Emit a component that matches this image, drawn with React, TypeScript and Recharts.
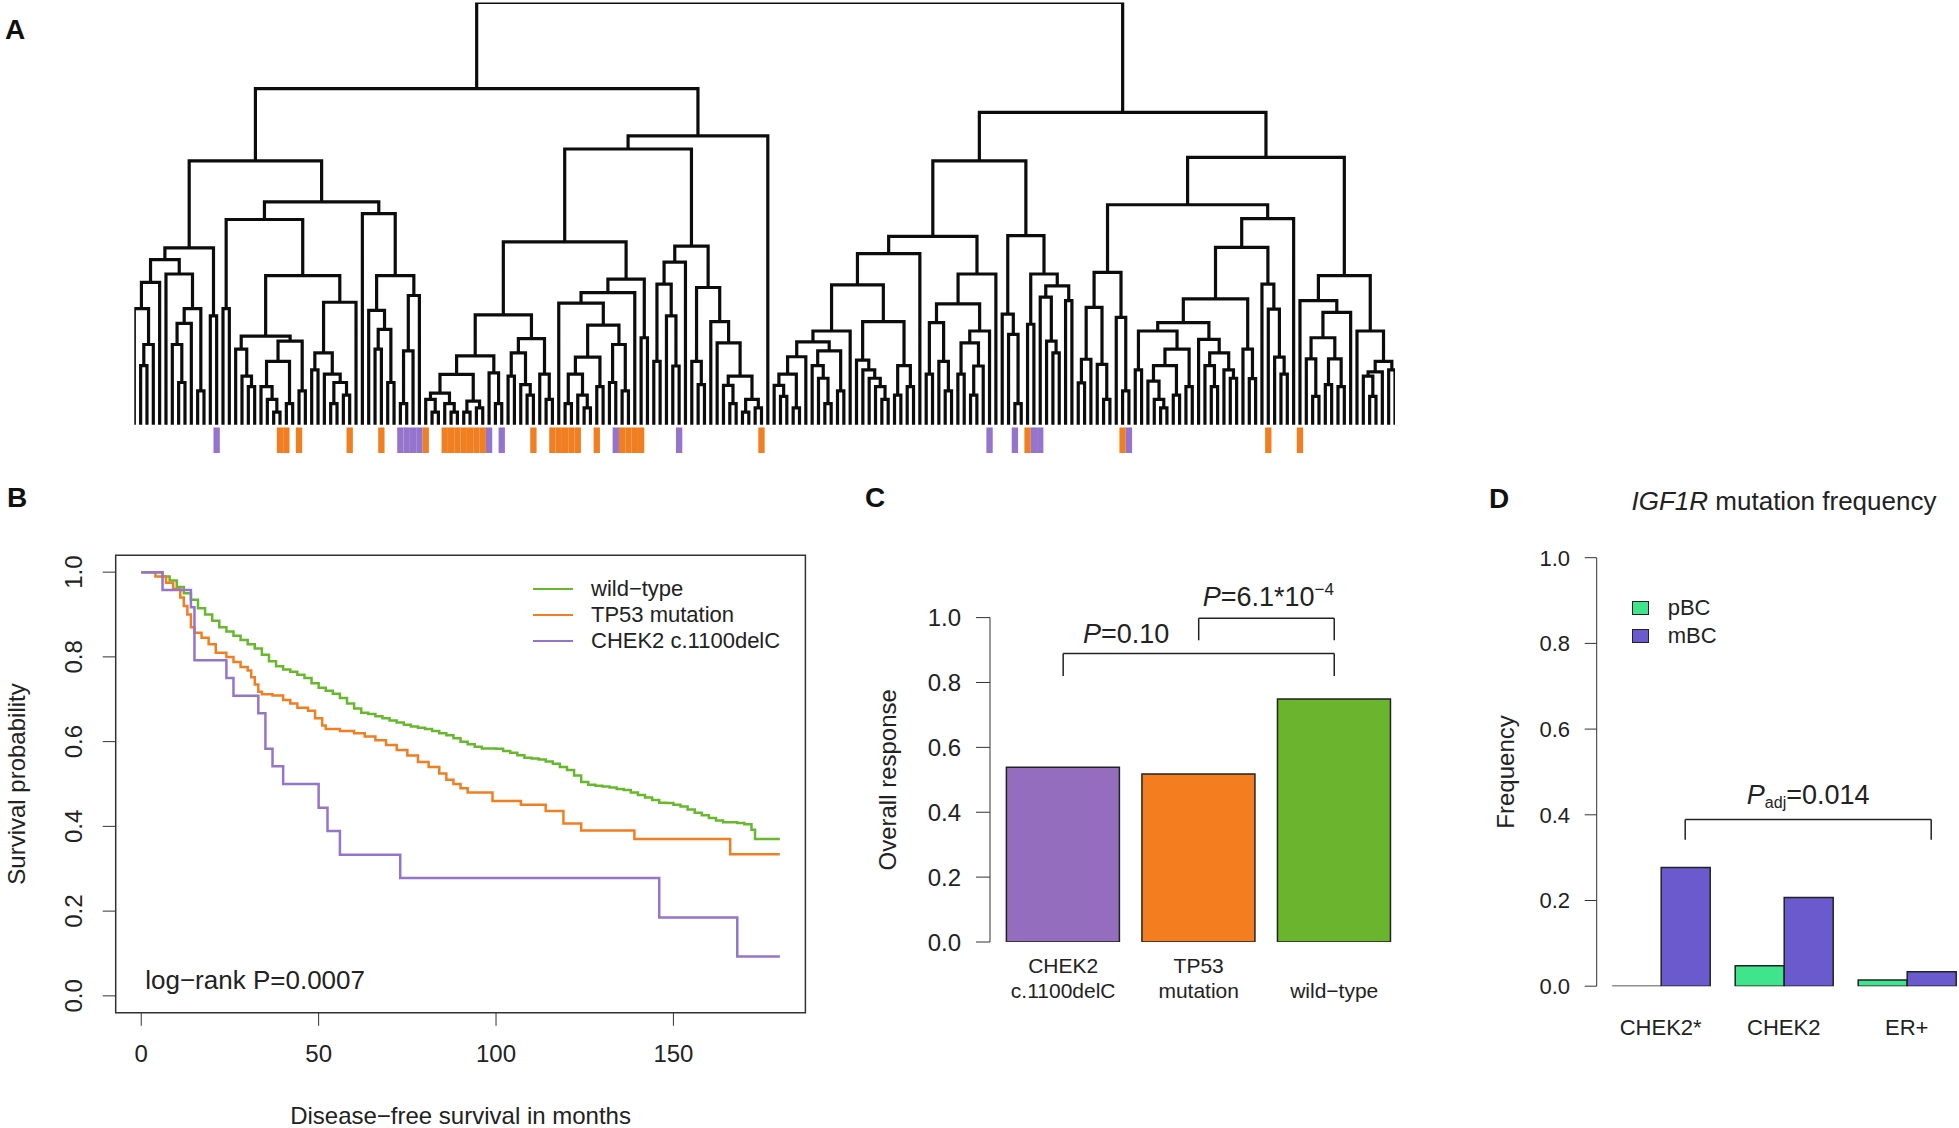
import React from 'react';
import {
  Bar,
  Cell,
  ComposedChart,
  Label,
  Legend,
  Line,
  LineChart,
  ReferenceArea,
  ReferenceDot,
  ReferenceLine,
  XAxis,
  YAxis,
} from 'recharts';

const FONT = '"Liberation Sans", Arial, Helvetica, sans-serif';
const INK = '#222';
const AXIS = '#333';
const ORANGE = '#F27E22';
const PURPLE = '#9474CC';
const GREEN = '#68B82E';

// ---------- Panel A: clustering tree ----------
// a node is [merge height, left, right], 0 is a leaf; heights 0 (leaves) .. 100 (root)
const clusterL = [41.9,
  [39.1,
    [33.7, [27.5, 0, [19, [14, 0, 0], 0]], 0],
    [35.7, 0, [27.5, [24, [19, 0, [10, 0, 0]], 0], [8, 0, 0]]]],
  [25.8, 0, 0]];

const clusterR1 = [48.6,
  [27.5, 0, 0],
  [35.3,
    [21, [17.9, 0, [11.5, 0, [9, 0, 0]]], [19.8, [15, [9, 0, [6, 0, [3, 0, 0]]], [5, 0, 0]], [8, 0, 0]]],
    [29, [17, [13, 0, 0], [12, 0, [10, [5, 0, 0], [7, 0, 0]]]], 0]]];

const clusterR2 = [50, 0, [35.3,
  [27.1, 0, [22.6, [17.9, 0, 0], [10, 0, 0]]],
  [30.6, [17.5, [5, 0, 0], 0], 0]]];

const clusterS1 = [43.3,
  [26,
    [16.3,
      [11.9, [7.5, [6, 0, [3, 0, 0]], [5, 0, [3, 0, 0]]], [5.6, [3, 0, 0], [4, 0, 0]]],
      [12.3, 0, [5, 0, 0]]],
    [20.4, [17, [11.5, 0, 0], [9.5, 0, [7, 0, 0]]], [12, 0, [6, 0, 0]]]],
  [34.5,
    [31.3, [28.8, 0,
      [23.6, [16, [12, [5, 0, 0], [7, 0, [4, 0, 0]]], [9, 0, 0]], [19, [10, 0, 0], [8, 0, 0]]]], 0],
    [20.6, 0, 0]]];

const clusterS2 = [42.3,
  [38.5, [33.3, [15, 0, 0], [25.8, 0, [13.9, 0, 0]]], 0],
  [32.5, [15, 0, [9.5, 0, 0]],
    [24.4, 0, [19.4, 0, [11.5, [9.3, 0, [5, 0, 0]], [6, [3, 0, 0], [4, 0, 0]]]]]]];

const clusterRLa = [44.6,
  [40.5,
    [33.1,
      [22.2,
        [19.6,
          [16.1, [12, [9.3, 0, [6.7, 0, 0]], [4, 0, 0]], 0],
          [17.5, [14, 0, [11, 0, [5, 0, 0]]], [8, 0, 0]]],
        0],
      [24.4,
        [15.3, 0, [13, 0, [11, 0, [9, 0, [6, 0, 0]]]]],
        [14, [7, 0, 0], [9, 0, 0]]]],
    0],
  [35.7,
    [28.6,
      [24.2, [12, 0, 0], [15, 0, [8, 0, 0]]],
      [22.2, [19.4, [12, 0, 0], [13.9, [7, 0, 0], 0]], 0]],
    0]];

const clusterRLb = [44.8,
  [26.2, 0, [21.4, 0, [5, 0, 0]]],
  [35.7, [23.8, 0, 0], [32.9, [30.2, 0, [19.8, 0, [17, 0, 0]]], [29.4, 0, 0]]]];

const clusterRRa = [52.1,
  [36.1,
    [27.8, [15.5, [9.9, 0, 0], 0], [14.3, 0, [6, 0, 0]]],
    [25.4, 0, [8, 0, 0]]],
  [48.8,
    [42,
      [29.8,
        [24.2,
          [22.2, [13, 0, 0], [17.9, [14, [10.3, 0, [6, 0, [4, 0, 0]]], [7, 0, 0]], [9, 0, 0]]],
          [20.2, 0, [17, [14, 0, [9, 0, 0]], [13, 0, [11, 0, 0]]]]],
        [17.9, 0, [10.9, 0, 0]]],
      [33.3, 0, [27.4, 0, [16, 0, [12, 0, 0]]]]],
    0]];

const clusterRRb = [35.3,
  [29.4, 0, [26.6, [20.6, [15.6, 0, [6.7, 0, 0]], [15.6, [9.5, 0, 0], [9, 0, 0]]], 0]],
  [22.2, 0, [15, [12.5, [11.5, 0, [6.7, 0, 0]], 0], [13, 0, 0]]]];

const leftBranch = [79.6, [62.5, clusterL, [52.8, clusterR1, clusterR2]], [68.4, [65.3, clusterS1, clusterS2], 0]];
const rightBranch = [74, [62.5, clusterRLa, clusterRLb], [63.3, clusterRRa, clusterRRb]];
const dendrogram = [100, leftBranch, rightBranch];

// leaf positions (left to right) marked under the tree
const tp53Leaves = [23, 24, 26, 34, 39, 46, 49, 50, 51, 52, 53, 54, 55, 63, 66, 67, 68, 69, 70, 73, 77, 78, 79, 80, 99, 141, 156, 179, 184];
const chek2Leaves = [13, 42, 43, 44, 45, 56, 58, 76, 86, 135, 139, 142, 143, 157];

// ---------- Panel B: Kaplan-Meier steps [months, survival] ----------
const wildTypeSteps = [
  [0, 1], [5, 1], [6, 0.99], [8, 0.98], [10, 0.965], [12, 0.95], [14, 0.935], [16, 0.915], [18, 0.9],
  [20, 0.885], [22, 0.87], [24, 0.86], [26, 0.85], [28, 0.84], [30, 0.83], [32, 0.82], [34, 0.805],
  [36, 0.79], [38, 0.778], [40, 0.77], [42, 0.765], [44, 0.758], [46, 0.75], [48, 0.738], [50, 0.727],
  [52, 0.72], [54, 0.713], [56, 0.703], [58, 0.69], [60, 0.678], [62, 0.668], [64, 0.665], [66, 0.66],
  [68, 0.655], [70, 0.65], [72, 0.645], [74, 0.64], [76, 0.636], [78, 0.633], [80, 0.63], [82, 0.625],
  [84, 0.62], [86, 0.615], [88, 0.608], [90, 0.6], [92, 0.594], [94, 0.588], [96, 0.584], [100, 0.583],
  [102, 0.578], [104, 0.574], [106, 0.568], [108, 0.562], [110, 0.56], [112, 0.558], [114, 0.553],
  [116, 0.548], [118, 0.54], [120, 0.533], [122, 0.52], [124, 0.505], [126, 0.498], [128, 0.496],
  [130, 0.494], [132, 0.492], [134, 0.488], [136, 0.486], [138, 0.48], [140, 0.474], [142, 0.468],
  [144, 0.462], [146, 0.456], [148, 0.455], [150, 0.451], [152, 0.447], [154, 0.44], [156, 0.432],
  [158, 0.426], [160, 0.42], [162, 0.414], [164, 0.41], [168, 0.408], [170, 0.405], [172, 0.392],
  [173, 0.37], [180, 0.37],
];
const tp53Steps = [
  [0, 1], [4, 0.99], [7, 0.975], [9, 0.96], [11, 0.94], [12, 0.92], [13, 0.9], [14, 0.87], [15, 0.857],
  [17, 0.845], [19, 0.83], [21, 0.81], [24, 0.8], [26, 0.788], [28, 0.776], [30, 0.768], [31, 0.752],
  [32, 0.735], [33, 0.718], [34, 0.712], [37, 0.709], [40, 0.698], [42, 0.69], [44, 0.68], [47, 0.673],
  [49, 0.655], [51, 0.638], [52, 0.63], [56, 0.625], [60, 0.62], [63, 0.612], [66, 0.603], [69, 0.592],
  [72, 0.58], [75, 0.567], [78, 0.552], [81, 0.54], [84, 0.525], [86, 0.51], [88, 0.5], [90, 0.49],
  [92, 0.48], [99, 0.46], [107, 0.451], [114, 0.436], [119, 0.407], [124, 0.39], [139, 0.37],
  [166, 0.334], [180, 0.334],
];
const chek2Steps = [
  [0, 1], [6, 0.958], [14, 0.917], [15, 0.792], [24, 0.75], [26, 0.708], [33, 0.667], [35, 0.583],
  [37, 0.542], [40, 0.5], [50, 0.444], [52.5, 0.389], [56, 0.333], [73, 0.278], [146, 0.185],
  [168, 0.093], [180, 0.093],
];
const survivalSeries = [
  { name: 'wild−type', color: GREEN, steps: wildTypeSteps },
  { name: 'TP53 mutation', color: ORANGE, steps: tp53Steps },
  { name: 'CHEK2 c.1100delC', color: PURPLE, steps: chek2Steps },
];
const monthTicks = [0, 50, 100, 150];
const probTicks = [0, 0.2, 0.4, 0.6, 0.8, 1];

// ---------- Panel C: overall response ----------
const responseGroups = ['CHEK2\nc.1100delC', 'TP53\nmutation', '\nwild−type'];
const responseValues = [0.539, 0.518, 0.749];
const responseColors = ['#946DBE', '#F47D20', '#6BB42D'];

// ---------- Panel D: IGF1R mutation frequency ----------
const freqGroups = ['CHEK2*', 'CHEK2', 'ER+'];
const pbcFreq = [0, 0.048, 0.0145];
const mbcFreq = [0.277, 0.207, 0.034];
const PBC_COLOR = '#3FE48C';
const MBC_COLOR = '#6A5ACD';
const FREQ_BAR = 49;

function layoutTree(root: any) {
  const points: { x: number; h: number | null }[] = [];
  let leaf = 0;
  const walk = (node: any): { x: number; h: number } => {
    if (!Array.isArray(node)) return { x: leaf++, h: 0 };
    const [h, a, b] = node;
    const l = walk(a);
    const r = walk(b);
    points.push({ x: l.x, h: l.h }, { x: l.x, h }, { x: r.x, h }, { x: r.x, h: r.h }, { x: r.x, h: null });
    return { x: (l.x + r.x) / 2, h };
  };
  walk(root);
  return { points, leafCount: leaf };
}

const { points: treePoints, leafCount } = layoutTree(dendrogram);

const textProps = { fontFamily: FONT, fill: INK };

const ProbTick = ({ x, y, payload }: any) => (
  <text x={x} y={y} transform={`rotate(-90, ${x}, ${y})`} textAnchor="middle" fontSize={24} {...textProps}>
    {Number(payload.value).toFixed(1)}
  </text>
);

const MonthTick = ({ x, y, payload }: any) => (
  <text x={x} y={y + 17.2} textAnchor="middle" fontSize={24} {...textProps}>{payload.value}</text>
);

const valueTick = (size: number) => ({ x, y, payload }: any) => (
  <text x={x} y={y} dy="0.355em" textAnchor="end" fontSize={size} {...textProps}>
    {Number(payload.value).toFixed(1)}
  </text>
);

const ResponseTick = ({ x, y, payload }: any) => {
  const lines = String(payload.value).split('\n');
  return (
    <text textAnchor="middle" fontSize={21} {...textProps}>
      {lines.map((l, i) => (
        <tspan key={i} x={x} y={y + 31 + i * 24.5}>{l}</tspan>
      ))}
    </text>
  );
};

const FreqTick = ({ x, y, payload }: any) => (
  <text x={x} y={y + 49} textAnchor="middle" fontSize={22} {...textProps}>{payload.value}</text>
);

const OutlinedBar = ({ x, y, width, height, fill }: any) => (
  <path d={`M${x},${y}h${width}v${height}h${-width}Z`} fill={fill} stroke={INK} strokeWidth={1.5} />
);

// bracket drawn at the mBC bar of each group (right half of the group)
const MbcBracketLine = (p: any) => (
  <line x1={p.x1 + FREQ_BAR / 2} y1={p.y1} x2={p.x2 + FREQ_BAR / 2} y2={p.y2} stroke={INK} strokeWidth={1.5} />
);

const SurvivalLegend = () => (
  <div style={{ fontFamily: FONT, fontSize: 22, color: INK }}>
    {survivalSeries.map((s) => (
      <div key={s.name} style={{ display: 'flex', alignItems: 'center', height: 25.75, whiteSpace: 'nowrap' }}>
        <span style={{ display: 'inline-block', width: 40, borderTop: `2.5px solid ${s.color}`, marginRight: 18 }} />
        {s.name}
      </div>
    ))}
  </div>
);

const FreqLegend = () => (
  <div style={{ fontFamily: FONT, fontSize: 22, color: INK }}>
    {[{ name: 'pBC', color: PBC_COLOR }, { name: 'mBC', color: MBC_COLOR }].map((s) => (
      <div key={s.name} style={{ display: 'flex', alignItems: 'center', height: 28, whiteSpace: 'nowrap' }}>
        <span style={{ display: 'inline-block', width: 15, height: 12, background: s.color, border: `1.5px solid ${INK}`, marginRight: 19 }} />
        {s.name}
      </div>
    ))}
  </div>
);

function Dendrogram() {
  return (
    <ComposedChart width={1959} height={460} data={treePoints} margin={{ top: 2.5, right: 564, bottom: 7, left: 134.3 }}>
      <XAxis type="number" dataKey="x" domain={[0, leafCount - 1]} hide allowDataOverflow />
      <YAxis type="number" domain={[-6.7, 100]} hide allowDataOverflow />
      {tp53Leaves.map((i) => (
        <ReferenceArea key={`o${i}`} x1={i - 0.5} x2={i + 0.5} y1={-6.7} y2={-0.65} fill={ORANGE} fillOpacity={1} stroke="none" ifOverflow="visible" />
      ))}
      {chek2Leaves.map((i) => (
        <ReferenceArea key={`p${i}`} x1={i - 0.5} x2={i + 0.5} y1={-6.7} y2={-0.65} fill={PURPLE} fillOpacity={1} stroke="none" ifOverflow="visible" />
      ))}
      <Line type="linear" dataKey="h" stroke="#0c0c0c" strokeWidth={3.2} strokeLinejoin="miter" dot={false} activeDot={false} connectNulls={false} isAnimationActive={false} />
    </ComposedChart>
  );
}

function SurvivalPlot() {
  return (
    <LineChart width={830} height={648} margin={{ top: 75.2, right: 24.6, bottom: 3.2, left: 5.7 }}>
      <XAxis type="number" dataKey="t" domain={[-7.2, 187.2]} allowDataOverflow ticks={monthTicks} interval={0}
        axisLine={false} stroke={AXIS} tickSize={13} tickMargin={19} height={112} tick={<MonthTick />}>
        <Label value="Disease−free survival in months" position="insideBottom" offset={1} fontSize={24} fill={INK} fontFamily={FONT} />
      </XAxis>
      <YAxis type="number" domain={[-0.04, 1.04]} allowDataOverflow ticks={probTicks} interval={0}
        axisLine={false} stroke={AXIS} tickSize={13} tickMargin={21.1} width={110} tick={<ProbTick />}>
        <Label value="Survival probability" angle={-90} position="insideLeft" offset={10.3} style={{ textAnchor: 'middle' }} fontSize={24} fill={INK} fontFamily={FONT} />
      </YAxis>
      <ReferenceArea x1={-7.2} x2={187.2} y1={-0.04} y2={1.04} fill="none" stroke={AXIS} strokeWidth={1.5} ifOverflow="visible" />
      {survivalSeries.map((s) => (
        <Line key={s.name} data={s.steps.map(([t, v]) => ({ t, s: v }))} dataKey="s" type="stepAfter"
          stroke={s.color} strokeWidth={2.5} dot={false} activeDot={false} isAnimationActive={false} />
      ))}
      <ReferenceDot x={0} y={0} r={0} ifOverflow="visible"
        shape={(p: any) => (
          <text x={p.cx + 4} y={p.cy - 6.5} fontSize={26} {...textProps}>log−rank P=0.0007</text>
        )} />
      <Legend layout="vertical" align="center" verticalAlign="middle" content={() => <SurvivalLegend />}
        wrapperStyle={{ left: 533, top: 96.6, width: 'auto' }} />
    </LineChart>
  );
}

function ResponsePlot() {
  const data = responseGroups.map((group, i) => ({ group, value: responseValues[i] }));
  const [g0, g1, g2] = responseGroups;
  const line = { stroke: INK, strokeWidth: 1.5, ifOverflow: 'visible' as const };
  return (
    <ComposedChart width={580} height={648} data={data} margin={{ top: 137.6, right: 18, bottom: 106, left: 40 }}>
      <XAxis dataKey="group" type="category" axisLine={false} tickLine={false} tickSize={0} tickMargin={0}
        interval={0} padding={{ left: 5.4, right: 0 }} height={80} tick={<ResponseTick />} />
      <YAxis type="number" domain={[0, 1]} allowDataOverflow ticks={probTicks} interval={0} width={110}
        stroke={AXIS} tickSize={14} tickMargin={15} tick={valueTick(24)}>
        <Label value="Overall response" angle={-90} position="insideLeft" offset={7} style={{ textAnchor: 'middle' }} fontSize={24} fill={INK} fontFamily={FONT} />
      </YAxis>
      <Bar dataKey="value" barSize={113} stroke={INK} strokeWidth={1.5} isAnimationActive={false}>
        {data.map((d, i) => <Cell key={d.group} fill={responseColors[i]} />)}
      </Bar>
      <ReferenceLine segment={[{ x: g0, y: 0.82 }, { x: g0, y: 0.889 }]} {...line} />
      <ReferenceLine segment={[{ x: g0, y: 0.889 }, { x: g2, y: 0.889 }]} {...line} />
      <ReferenceLine segment={[{ x: g2, y: 0.82 }, { x: g2, y: 0.889 }]} {...line} />
      <ReferenceLine segment={[{ x: g1, y: 0.93 }, { x: g1, y: 0.998 }]} {...line} />
      <ReferenceLine segment={[{ x: g1, y: 0.998 }, { x: g2, y: 0.998 }]} {...line} />
      <ReferenceLine segment={[{ x: g2, y: 0.93 }, { x: g2, y: 0.998 }]} {...line} />
      <ReferenceDot x={g0} y={0.889} r={0} ifOverflow="visible"
        shape={(p: any) => (
          <text x={p.cx + 63} y={p.cy - 11} textAnchor="middle" fontSize={27} {...textProps}>
            <tspan fontStyle="italic">P</tspan>=0.10
          </text>
        )} />
      <ReferenceDot x={g1} y={0.998} r={0} ifOverflow="visible"
        shape={(p: any) => (
          <text x={p.cx + 4} y={p.cy - 12.6} fontSize={27} {...textProps}>
            <tspan fontStyle="italic">P</tspan>=6.1*10<tspan fontSize={17} dy={-11}>−4</tspan>
          </text>
        )} />
    </ComposedChart>
  );
}

function FrequencyPlot() {
  const data = freqGroups.map((group, i) => ({ group, pBC: pbcFreq[i], mBC: mbcFreq[i] }));
  const [g0, g1, g2] = freqGroups;
  const line = { ifOverflow: 'visible' as const, shape: MbcBracketLine };
  return (
    <ComposedChart width={510} height={648} data={data} barGap={0} margin={{ top: 77.7, right: 1.8, bottom: 61.8, left: 36.7 }}>
      <XAxis dataKey="group" type="category" axisLine={false} tickLine={false} tickSize={0} tickMargin={0}
        interval={0} padding={{ left: 2.5, right: 0 }} height={80} tick={<FreqTick />} />
      <YAxis type="number" domain={[0, 1]} allowDataOverflow ticks={probTicks} interval={0} width={100}
        stroke={AXIS} tickSize={12} tickMargin={14.7} tick={valueTick(22)}>
        <Label value="Frequency" angle={-90} position="insideLeft" offset={8.3} style={{ textAnchor: 'middle' }} fontSize={24} fill={INK} fontFamily={FONT} />
      </YAxis>
      <Bar dataKey="pBC" barSize={FREQ_BAR} fill={PBC_COLOR} shape={<OutlinedBar />} isAnimationActive={false} />
      <Bar dataKey="mBC" barSize={FREQ_BAR} fill={MBC_COLOR} shape={<OutlinedBar />} isAnimationActive={false} />
      <ReferenceLine segment={[{ x: g0, y: 0.342 }, { x: g0, y: 0.389 }]} {...line} />
      <ReferenceLine segment={[{ x: g0, y: 0.389 }, { x: g2, y: 0.389 }]} {...line} />
      <ReferenceLine segment={[{ x: g2, y: 0.342 }, { x: g2, y: 0.389 }]} {...line} />
      <ReferenceDot x={g1} y={0.389} r={0} ifOverflow="visible"
        shape={(p: any) => (
          <text x={p.cx + FREQ_BAR / 2} y={p.cy - 16} textAnchor="middle" fontSize={27} {...textProps}>
            <tspan fontStyle="italic">P</tspan><tspan fontSize={16} dy={4}>adj</tspan><tspan dy={-4}>=0.014</tspan>
          </text>
        )} />
      <Legend layout="vertical" align="center" verticalAlign="middle" content={() => <FreqLegend />}
        wrapperStyle={{ left: 171.7, top: 113.5, width: 'auto' }} />
    </ComposedChart>
  );
}

export default function App() {
  return (
    <div style={{ position: 'fixed', left: 0, top: 0, width: 1959, height: 1128, overflow: 'hidden', background: '#fff', fontFamily: FONT }}>
      <div style={{ position: 'absolute', left: 0, top: 0 }}><Dendrogram /></div>
      <div style={{ position: 'absolute', left: 0, top: 480 }}><SurvivalPlot /></div>
      <div style={{ position: 'absolute', left: 840, top: 480 }}><ResponsePlot /></div>
      <div style={{ position: 'absolute', left: 1460, top: 480 }}><FrequencyPlot /></div>
      <svg width={1959} height={1128} style={{ position: 'absolute', left: 0, top: 0, pointerEvents: 'none' }}>
        <g fontFamily={FONT} fontWeight="bold" fontSize={28} fill="#111">
          <text x={5} y={39}>A</text>
          <text x={7} y={507}>B</text>
          <text x={865} y={507}>C</text>
          <text x={1489} y={508}>D</text>
        </g>
        <text x={1784} y={510} textAnchor="middle" fontSize={26} {...textProps}>
          <tspan fontStyle="italic">IGF1R</tspan> mutation frequency
        </text>
      </svg>
    </div>
  );
}
